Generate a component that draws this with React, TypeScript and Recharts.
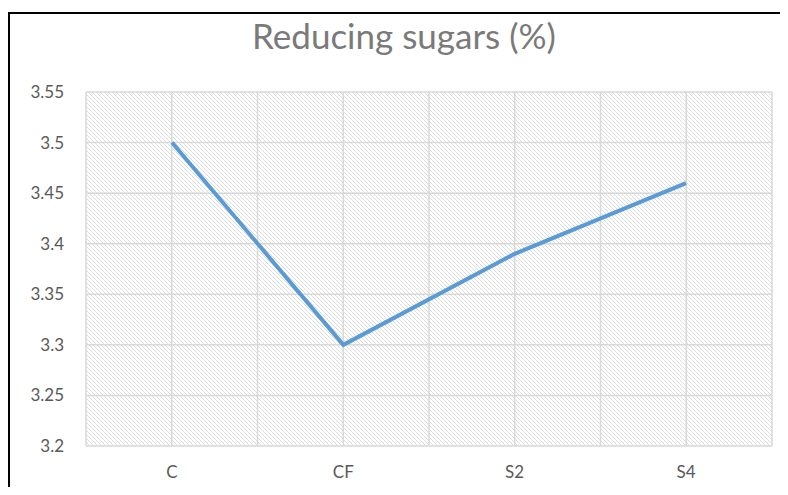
import React from 'react';
import { LineChart, Line, XAxis, YAxis, CartesianGrid } from 'recharts';

const categories = ['C', 'CF', 'S2', 'S4'];
const sugars = [3.5, 3.3, 3.39, 3.46];
const yTicks = [3.2, 3.25, 3.3, 3.35, 3.4, 3.45, 3.5, 3.55];

const data = categories.map((name, i) => ({ name, value: sugars[i] }));

const tickStyle = { fontSize: 17, fill: '#595959', fontFamily: 'Lato, "Open Sans", sans-serif' };

const App: React.FC = () => {
  return (
    <div style={{ position: 'relative', width: 788, height: 495, margin: -8, background: '#fff', overflow: 'hidden' }}>
      {/* outer frame (cut off at right and bottom) */}
      <div
        style={{
          position: 'absolute',
          left: 8,
          top: 12,
          width: 800,
          height: 500,
          borderTop: '2px solid #000',
          borderLeft: '2px solid #000',
        }}
      />
      <div
        style={{
          position: 'absolute',
          left: 0,
          width: 808,
          top: 14,
          textAlign: 'center',
          fontFamily: 'Lato, "Open Sans", sans-serif',
          fontSize: 35,
          color: '#7a7a7a',
        }}
      >
        Reducing sugars (%)
      </div>
      <div style={{ position: 'absolute', left: 0, top: 0 }}>
        <LineChart width={788} height={495} data={data} margin={{ top: 92, right: 16, bottom: 19, left: 0 }}>
          <defs>
            <pattern id="hatch" width="4" height="4" patternUnits="userSpaceOnUse">
              <rect width="4" height="4" fill="#fff" />
              <path d="M-1,-1 L5,5 M-1,3 L1,5 M3,-1 L5,1" stroke="#dcdcdc" strokeWidth="1" />
            </pattern>
          </defs>
          <CartesianGrid
            fill="url(#hatch)"
            fillOpacity={1}
            stroke="#d9d9d9"
            strokeWidth={1.5}
            verticalCoordinatesGenerator={({ offset }: any) =>
              Array.from({ length: 9 }, (_, i) => offset.left + (i * offset.width) / 8)
            }
          />
          <XAxis
            dataKey="name"
            axisLine={false}
            tickLine={false}
            tickSize={0}
            tickMargin={20}
            height={30}
            padding={{ left: 86, right: 86 }}
            tick={tickStyle}
          />
          <YAxis
            domain={[3.2, 3.55]}
            ticks={yTicks}
            axisLine={false}
            tickLine={false}
            tickSize={0}
            tickMargin={22}
            width={86}
            tick={tickStyle}
            tickFormatter={(v: number) => String(v)}
          />
          <Line
            type="linear"
            dataKey="value"
            stroke="#5b9bd5"
            strokeWidth={4}
            dot={false}
            activeDot={false}
            isAnimationActive={false}
          />
        </LineChart>
      </div>
    </div>
  );
};

export default App;
